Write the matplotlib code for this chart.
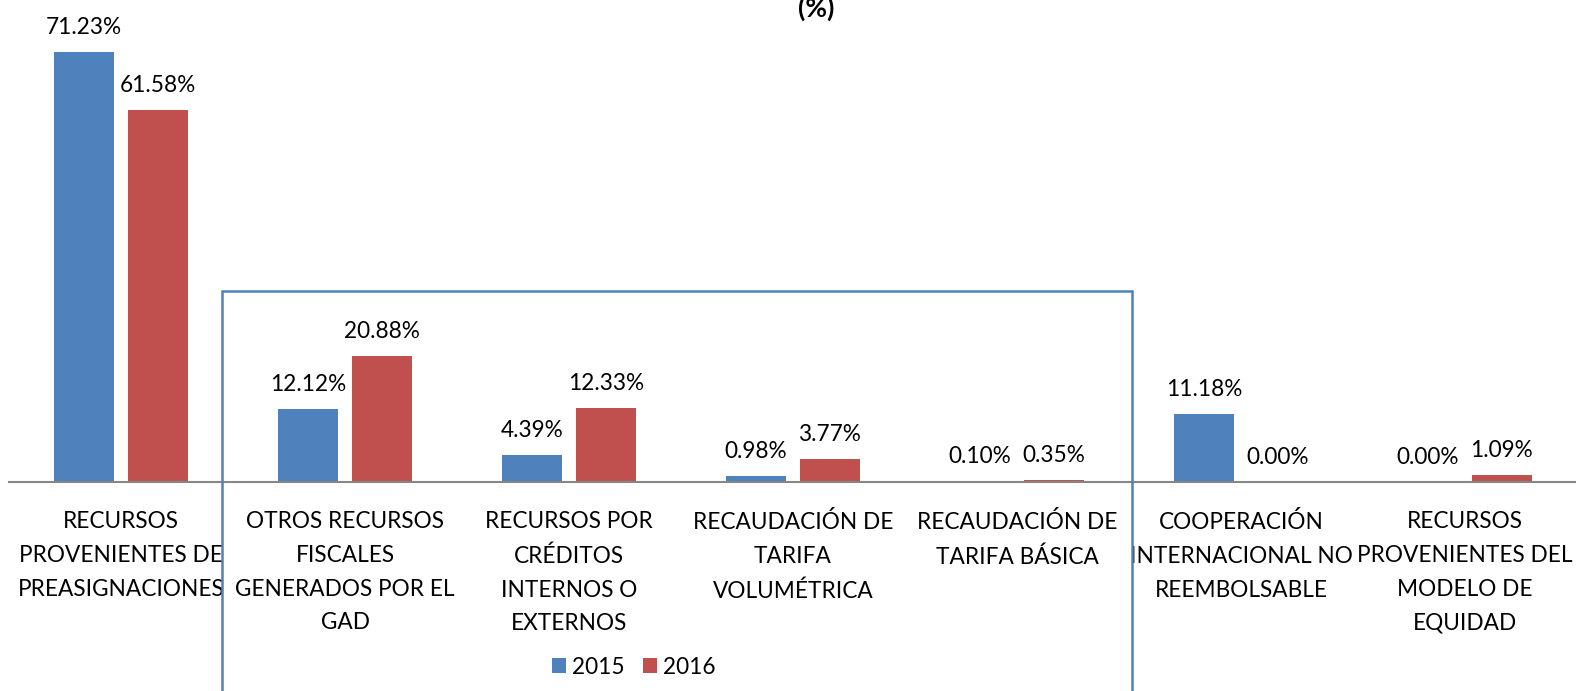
import matplotlib.pyplot as plt
import numpy as np
from matplotlib.patches import Rectangle

plt.rcParams['font.family'] = ['Lato', 'DejaVu Sans']

categories = [
	'RECURSOS\nPROVENIENTES DE\nPREASIGNACIONES',
	'OTROS RECURSOS\nFISCALES\nGENERADOS POR EL\nGAD',
	'RECURSOS POR\nCRÉDITOS\nINTERNOS O\nEXTERNOS',
	'RECAUDACIÓN DE\nTARIFA\nVOLUMÉTRICA',
	'RECAUDACIÓN DE\nTARIFA BÁSICA',
	'COOPERACIÓN\nINTERNACIONAL NO\nREEMBOLSABLE',
	'RECURSOS\nPROVENIENTES DEL\nMODELO DE\nEQUIDAD',
]
y2015 = [71.23, 12.12, 4.39, 0.98, 0.10, 11.18, 0.00]
y2016 = [61.58, 20.88, 12.33, 3.77, 0.35, 0.00, 1.09]
series = {'2015': (y2015, '#4F81BD'), '2016': (y2016, '#C0504D')}

W, H = 1576, 691
fs = 16.3
fig = plt.figure(figsize=(W / 100, H / 100), dpi=100)
ax = fig.add_axes([9 / W, (H - 482) / H, 1568 / W, 482 / H])

x = np.arange(len(categories))
width, offset = 0.264, 0.165
for k, (name, (vals, color)) in enumerate(series.items()):
	pos = x + (k - 0.5) * 2 * offset
	bars = ax.bar(pos, vals, width, color=color, label=name)
	for b, v in zip(bars, vals):
		ax.annotate(f'{v:.2f}%', (b.get_x() + b.get_width() / 2, v), xytext=(0, 14),
					textcoords='offset pixels', ha='center', va='bottom', fontsize=fs)

ax.set_xlim(-0.5, len(categories) - 0.5)
ax.set_ylim(0, 482 / 6.04)
for s in ['top', 'left', 'right']:
	ax.spines[s].set_visible(False)
ax.spines['bottom'].set_color('#868686')
ax.spines['bottom'].set_linewidth(1.5)
ax.set_yticks([])
ax.set_xticks(x)
ax.set_xticklabels(categories, fontsize=fs, linespacing=1.75)
ax.tick_params(axis='x', length=0, pad=21)

fig.text(816 / W, 1 - 8 / H, '(%)', ha='center', va='center', fontsize=19, fontweight='bold')

fig.patches.append(Rectangle((222 / W, -0.01), 910 / W, (H - 291) / H + 0.01, transform=fig.transFigure,
							 fill=False, edgecolor='#4F81BD', linewidth=1.8))

fig.legend(loc='center', bbox_to_anchor=(634 / W, 1 - 667 / H), ncol=2, frameon=False, fontsize=fs,
		   handlelength=0.6, handleheight=0.6, handletextpad=0.3, columnspacing=0.8)

fig.savefig('out.png', dpi=100)
